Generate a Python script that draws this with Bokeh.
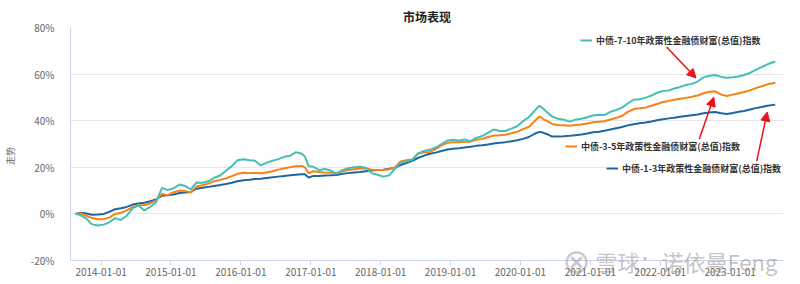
import pandas as pd
from bokeh.plotting import figure
from bokeh.models import (Range1d, FixedTicker, DatetimeTickFormatter, Legend, LegendItem,
                          Arrow, NormalHead, Label)
from bokeh.embed import file_html
from bokeh.resources import INLINE

title_text = "市场表现"
y_label = "走势"
name_710 = "中债-7-10年政策性金融债财富(总值)指数"
name_35 = "中债-3-5年政策性金融债财富(总值)指数"
name_13 = "中债-1-3年政策性金融债财富(总值)指数"
watermark = "雪球：诺依曼Feng"

tick_labels = ["2014-01-01", "2015-01-01", "2016-01-01", "2017-01-01", "2018-01-01",
               "2019-01-01", "2020-01-01", "2021-01-01", "2022-01-01", "2023-01-01"]
y_ticks = [-20, 0, 20, 40, 60, 80]

dates = [
    "2013-08-20", "2013-09-15", "2013-10-15", "2013-11-15", "2013-12-15",
    "2014-01-15", "2014-02-15", "2014-03-15", "2014-04-15", "2014-05-15", "2014-06-15",
    "2014-07-15", "2014-08-15", "2014-09-15", "2014-10-15", "2014-11-15", "2014-12-15",
    "2015-01-15", "2015-02-15", "2015-03-15", "2015-04-15", "2015-05-15", "2015-06-15",
    "2015-07-15", "2015-08-15", "2015-09-15", "2015-10-15", "2015-11-15", "2015-12-15",
    "2016-01-15", "2016-02-15", "2016-03-15", "2016-04-15", "2016-05-15", "2016-06-15",
    "2016-07-15", "2016-08-15", "2016-09-15", "2016-10-15", "2016-11-15", "2016-12-01", "2016-12-20",
    "2017-01-15", "2017-02-15", "2017-03-15", "2017-04-15", "2017-05-15", "2017-06-15",
    "2017-07-15", "2017-08-15", "2017-09-15", "2017-10-15", "2017-11-15", "2017-12-15",
    "2018-01-15", "2018-02-15", "2018-03-15", "2018-04-15", "2018-05-15", "2018-06-15",
    "2018-07-15", "2018-08-15", "2018-09-15", "2018-10-15", "2018-11-15", "2018-12-15",
    "2019-01-15", "2019-02-15", "2019-03-15", "2019-04-15", "2019-05-15", "2019-06-15",
    "2019-07-15", "2019-08-15", "2019-09-15", "2019-10-15", "2019-11-15", "2019-12-15",
    "2020-01-15", "2020-02-15", "2020-03-15", "2020-04-10", "2020-05-01", "2020-05-20", "2020-06-15",
    "2020-07-15", "2020-08-15", "2020-09-15", "2020-10-15", "2020-11-15", "2020-12-15",
    "2021-01-15", "2021-02-15", "2021-03-15", "2021-04-15", "2021-05-15", "2021-06-15",
    "2021-07-15", "2021-08-15", "2021-09-15", "2021-10-15", "2021-11-15", "2021-12-15",
    "2022-01-15", "2022-02-15", "2022-03-15", "2022-04-15", "2022-05-15", "2022-06-15",
    "2022-07-15", "2022-08-15", "2022-09-15", "2022-10-15", "2022-11-15", "2022-12-15",
    "2023-01-15", "2023-02-15", "2023-03-15", "2023-04-15", "2023-05-15", "2023-06-15",
    "2023-07-15", "2023-08-25",
]

idx_710 = [
    0.0, -0.5, -2.0, -4.5, -5.0,
    -4.6, -3.5, -1.8, -2.6, -0.8, 2.5, 3.6, 1.5, 3.0, 5.0, 11.2, 10.2,
    11.0, 12.6, 12.0, 10.5, 13.5, 13.4, 14.0, 15.5, 16.5, 18.5, 20.5, 23.0,
    23.5, 23.0, 22.8, 20.8, 22.0, 22.8, 23.5, 24.5, 25.0, 26.5, 25.8, 24.6, 20.5,
    20.2, 18.8, 19.3, 18.6, 17.3, 18.8, 19.6, 20.0, 20.2, 19.8, 17.5, 16.8,
    16.0, 16.6, 19.2, 22.0, 22.5, 23.2, 26.0, 27.0, 27.5, 28.5, 30.0, 31.5,
    31.8, 31.4, 32.0, 31.2, 32.6, 33.4, 34.8, 36.2, 35.6, 35.6, 36.6, 37.6,
    39.8, 41.5, 44.2, 46.4, 45.0, 43.6, 41.8, 40.8, 40.4, 39.6, 40.4, 40.8, 41.5,
    42.2, 42.6, 42.4, 43.8, 44.6, 45.6, 47.4, 49.0, 49.2, 49.8, 50.8, 52.0,
    52.8, 53.0, 53.8, 54.5, 55.3, 55.8, 56.8, 58.6, 59.3, 59.6, 58.8, 58.4,
    58.6, 59.0, 59.6, 60.5, 61.8, 63.0, 64.2, 65.4,
]

idx_35 = [
    0.0, 0.3, -0.8, -1.8, -2.3,
    -2.2, -1.5, 0.0, 0.5, 1.5, 3.0, 3.6, 3.8, 4.5, 5.8, 8.6, 8.0,
    9.3, 10.0, 9.8, 9.2, 11.8, 12.3, 13.0, 14.0, 14.6, 15.2, 16.2, 17.2,
    17.7, 17.5, 17.6, 17.4, 17.8, 18.3, 19.0, 19.6, 20.0, 20.5, 20.6, 20.0, 17.4,
    18.3, 18.0, 17.8, 17.7, 17.6, 18.3, 18.8, 19.2, 19.5, 19.6, 19.0, 18.8,
    18.8, 19.2, 19.8, 22.5, 23.0, 23.4, 25.8, 26.4, 26.6, 27.8, 29.4, 30.5,
    30.8, 30.8, 31.0, 31.0, 31.8, 32.2, 33.0, 33.6, 33.8, 34.0, 34.6, 35.2,
    36.4, 37.4, 39.8, 41.8, 40.6, 39.8, 38.6, 38.2, 38.0, 37.8, 38.2, 38.4, 38.8,
    39.3, 39.6, 39.8, 40.5, 41.2, 42.0, 43.8, 45.0, 45.3, 45.6, 46.4, 47.2,
    48.0, 48.5, 49.0, 49.4, 49.8, 50.3, 50.8, 51.8, 52.4, 52.6, 51.2, 50.6,
    51.2, 51.8, 52.3, 53.0, 54.0, 54.8, 55.6, 56.3,
]

idx_13 = [
    0.0, 0.5, 0.2, -0.4, -0.3,
    0.0, 1.0, 2.0, 2.4, 3.0, 4.0, 4.5, 4.8, 5.4, 6.2, 7.8, 8.0,
    8.3, 9.0, 9.2, 9.4, 10.8, 11.2, 11.6, 12.0, 12.4, 12.8, 13.4, 14.0,
    14.4, 14.7, 15.0, 15.1, 15.4, 15.7, 16.0, 16.3, 16.6, 16.8, 17.0, 17.0, 15.6,
    16.3, 16.3, 16.5, 16.6, 16.7, 17.2, 17.5, 17.8, 18.0, 18.3, 18.6, 18.8,
    19.0, 19.4, 19.8, 21.0, 21.8, 22.8, 24.0, 25.0, 25.8, 26.3, 27.0, 27.6,
    28.0, 28.2, 28.5, 28.8, 29.2, 29.5, 29.8, 30.2, 30.5, 30.8, 31.2, 31.6,
    32.2, 33.0, 34.4, 35.2, 34.8, 34.2, 33.2, 33.2, 33.3, 33.5, 33.8, 34.1, 34.5,
    35.0, 35.3, 35.7, 36.2, 36.8, 37.3, 38.0, 38.5, 38.9, 39.2, 39.7, 40.2,
    40.6, 41.0, 41.3, 41.7, 42.0, 42.3, 42.7, 43.2, 43.5, 43.7, 43.2, 42.9,
    43.3, 43.8, 44.2, 44.8, 45.4, 45.9, 46.4, 46.9,
]

# arrow annotations (start date, start %, end date, end %)
arrow_from_dates = ["2022-02-03", "2022-07-22", "2023-05-18"]
arrow_from_vals = [71.6, 31.7, 21.9]
arrow_to_dates = ["2022-07-07", "2022-10-08", "2023-07-14"]
arrow_to_vals = [58.3, 50.1, 43.7]

C_710 = "#45bfb6"
C_35 = "#fa8014"
C_13 = "#1c66a2"
RED = "#e8121c"
GRID = "#e6e6e6"
AXIS = "#ccd6eb"
TXT = "#666666"
FONT = "Noto Sans CJK SC"


def ms(s):
    return (pd.Timestamp(s) - pd.Timestamp("1970-01-01")) / pd.Timedelta(milliseconds=1)


x_dates = pd.to_datetime(dates)

# frame runs to the bottom of the canvas; the x axis sits at the -20% line
p = figure(width=800, height=284, x_axis_type="datetime", output_backend="svg",
           toolbar_location=None,
           x_range=Range1d(ms("2013-07-25"), ms("2023-10-07")),
           y_range=Range1d(-30.3, 80),
           min_border_left=62, min_border_right=17, min_border_top=27, min_border_bottom=0)

p.outline_line_color = None
p.background_fill_color = "white"
p.border_fill_color = "white"

p.title.text = title_text
p.title.align = "center"
p.title.text_font = FONT
p.title.text_font_size = "12px"
p.title.text_font_style = "bold"
p.title.text_color = "#222222"
p.title.standoff = 5

p.xgrid.visible = False
p.ygrid.grid_line_color = GRID
p.ygrid.grid_line_width = 1

p.xaxis.fixed_location = y_ticks[0]
p.xaxis.ticker = FixedTicker(ticks=[ms(t) for t in tick_labels])
p.xaxis.formatter = DatetimeTickFormatter(years="%Y-%m-%d", months="%Y-%m-%d", days="%Y-%m-%d")
p.xaxis.axis_line_color = AXIS
p.xaxis.major_tick_line_color = AXIS
p.xaxis.major_tick_out = 5
p.xaxis.major_tick_in = 0
p.xaxis.minor_tick_line_color = None
p.xaxis.major_label_standoff = 2

p.yaxis.ticker = FixedTicker(ticks=y_ticks)
p.yaxis.bounds = (y_ticks[0], y_ticks[-1])
p.yaxis.major_label_overrides = {v: f"{v}%" for v in y_ticks}
p.yaxis.axis_line_color = AXIS
p.yaxis.major_tick_line_color = None
p.yaxis.minor_tick_line_color = None
p.yaxis.major_label_standoff = 10
p.yaxis.axis_label = y_label
p.yaxis.axis_label_standoff = 11
p.yaxis.axis_label_text_font = FONT
p.yaxis.axis_label_text_font_size = "9px"
p.yaxis.axis_label_text_font_style = "normal"
p.yaxis.axis_label_text_color = TXT

for ax in (p.xaxis, p.yaxis):
    ax.major_label_text_font = FONT
    ax.major_label_text_font_size = "10px"
    ax.major_label_text_color = TXT

r13 = p.line(x_dates, idx_13, line_color=C_13, line_width=2)
r35 = p.line(x_dates, idx_35, line_color=C_35, line_width=2)
r710 = p.line(x_dates, idx_710, line_color=C_710, line_width=2)


def make_legend(label, renderer, loc):
    lg = Legend(items=[LegendItem(label=label, renderers=[renderer])], location=loc,
                orientation="vertical", glyph_width=12, glyph_height=14, label_height=14,
                label_standoff=4, padding=6, margin=0, spacing=0,
                border_line_color=None, background_fill_color="white", background_fill_alpha=1.0,
                label_text_font=FONT, label_text_font_size="9px", label_text_font_style="bold",
                label_text_color="#333333")
    p.add_layout(lg)


make_legend(name_710, r710, (510, 237))
make_legend(name_35, r35, (495, 131))
make_legend(name_13, r13, (536, 109))

for fd, fv, td, tv in zip(arrow_from_dates, arrow_from_vals, arrow_to_dates, arrow_to_vals):
    p.add_layout(Arrow(end=NormalHead(size=9, fill_color=RED, line_color=RED),
                       x_start=ms(fd), y_start=fv, x_end=ms(td), y_end=tv,
                       line_color=RED, line_width=1.5))

p.add_layout(Label(x=506, y=24, x_units="screen", y_units="screen", text="⊗", level="overlay",
                   text_font="DejaVu Sans", text_font_size="34px", text_color="#8a8a8a",
                   text_alpha=0.45, text_align="center", text_baseline="middle"))
p.add_layout(Label(x=525, y=24, x_units="screen", y_units="screen", text=watermark, level="overlay",
                   text_font=FONT, text_font_size="22px", text_color="#8a8a8a",
                   text_alpha=0.5, text_align="left", text_baseline="middle"))

open("out.html", "w").write(file_html(p, INLINE))
